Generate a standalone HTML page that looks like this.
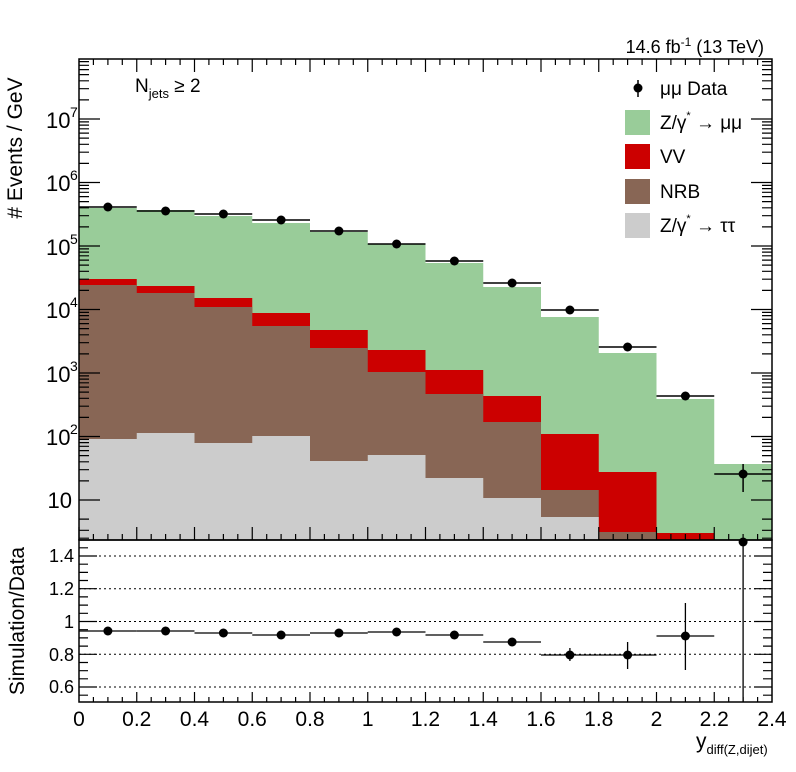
<!DOCTYPE html>
<html><head><meta charset="utf-8"><style>body{margin:0;background:#fff}svg{display:block}text{font-family:"Liberation Sans",sans-serif;fill:#000}</style></head><body>
<svg width="796" height="772" viewBox="0 0 796 772" xmlns="http://www.w3.org/2000/svg">
<rect width="796" height="772" fill="#fff"/>
<g fill="#99cc99">
<path d="M79,540V208H136.75V210H194.5V216H252.25V223H310V232H367.75V244H425.5V263H483.25V287H541V317H598.75V353H656.5V399H714.25V464H772V540Z"/>
</g>
<g fill="#cc0000">
<path d="M79,540V279H136.75V286H194.5V298H252.25V313H310V330H367.75V350H425.5V370H483.25V396H541V434H598.75V472H656.5V533H714.25V540Z"/>
</g>
<g fill="#886655">
<path d="M79,540V285H136.75V293H194.5V307H252.25V326H310V348H367.75V372H425.5V394H483.25V422H541V490H598.75V532H656.5V540Z"/>
</g>
<g fill="#cccccc">
<path d="M79,540V439H136.75V433H194.5V443H252.25V436H310V461H367.75V455H425.5V478H483.25V498H541V517H598.75V540Z"/>
</g>
<g stroke="#000" stroke-width="1.5">
<line x1="79" y1="207" x2="136.75" y2="207"/><line x1="136.75" y1="211" x2="194.5" y2="211"/><line x1="194.5" y1="214" x2="252.25" y2="214"/><line x1="252.25" y1="220" x2="310" y2="220"/><line x1="310" y1="231" x2="367.75" y2="231"/><line x1="367.75" y1="244" x2="425.5" y2="244"/><line x1="425.5" y1="261" x2="483.25" y2="261"/><line x1="483.25" y1="283" x2="541" y2="283"/><line x1="541" y1="310" x2="598.75" y2="310"/><line x1="598.75" y1="347" x2="656.5" y2="347"/><line x1="656.5" y1="396" x2="714.25" y2="396"/><line x1="714.25" y1="474" x2="772" y2="474"/><line x1="743.1" y1="464" x2="743.1" y2="492"/>
</g>
<g fill="#000">
<circle cx="107.9" cy="207" r="4.5"/><circle cx="165.6" cy="211" r="4.5"/><circle cx="223.4" cy="214" r="4.5"/><circle cx="281.1" cy="220" r="4.5"/><circle cx="338.9" cy="231" r="4.5"/><circle cx="396.6" cy="244" r="4.5"/><circle cx="454.4" cy="261" r="4.5"/><circle cx="512.1" cy="283" r="4.5"/><circle cx="569.9" cy="310" r="4.5"/><circle cx="627.6" cy="347" r="4.5"/><circle cx="685.4" cy="396" r="4.5"/><circle cx="743.1" cy="474" r="4.5"/>
</g>
<rect x="79" y="59" width="693" height="481" fill="none" stroke="#000" stroke-width="1.5"/>
<g stroke="#000" stroke-width="1.2">
<path d="M79,540v-13M136.75,540v-13M194.5,540v-13M252.25,540v-13M310,540v-13M367.75,540v-13M425.5,540v-13M483.25,540v-13M541,540v-13M598.75,540v-13M656.5,540v-13M714.25,540v-13
M93.4,540v-6M107.9,540v-6M122.3,540v-6M151.2,540v-6M165.6,540v-6M180.1,540v-6M208.9,540v-6M223.4,540v-6M237.8,540v-6M266.7,540v-6M281.1,540v-6M295.6,540v-6M324.4,540v-6M338.9,540v-6M353.3,540v-6M382.2,540v-6M396.6,540v-6M411.1,540v-6M439.9,540v-6M454.4,540v-6M468.8,540v-6M497.7,540v-6M512.1,540v-6M526.6,540v-6M555.4,540v-6M569.9,540v-6M584.3,540v-6M613.2,540v-6M627.6,540v-6M642.1,540v-6M670.9,540v-6M685.4,540v-6M699.8,540v-6M728.7,540v-6M743.1,540v-6M757.6,540v-6
M136.75,59v13M194.5,59v13M252.25,59v13M310,59v13M367.75,59v13M425.5,59v13M483.25,59v13M541,59v13M598.75,59v13M656.5,59v13M714.25,59v13
M93.4,59v6M107.9,59v6M122.3,59v6M151.2,59v6M165.6,59v6M180.1,59v6M208.9,59v6M223.4,59v6M237.8,59v6M266.7,59v6M281.1,59v6M295.6,59v6M324.4,59v6M338.9,59v6M353.3,59v6M382.2,59v6M396.6,59v6M411.1,59v6M439.9,59v6M454.4,59v6M468.8,59v6M497.7,59v6M512.1,59v6M526.6,59v6M555.4,59v6M569.9,59v6M584.3,59v6M613.2,59v6M627.6,59v6M642.1,59v6M670.9,59v6M685.4,59v6M699.8,59v6M728.7,59v6M743.1,59v6M757.6,59v6"/>
<path d="M79,500h21M79,436.5h21M79,373h21M79,309.5h21M79,246h21M79,182.5h21M79,119h21
M772,500h-21M772,436.5h-21M772,373h-21M772,309.5h-21M772,246h-21M772,182.5h-21M772,119h-21"/>
<path id="minl" d="M79,519.1h10M79,530.3h10M79,538.2h10M79,480.9h10M79,469.7h10M79,461.8h10M79,455.6h10M79,450.6h10M79,446.3h10M79,442.6h10M79,439.4h10
M79,417.4h10M79,406.2h10M79,398.3h10M79,392.1h10M79,387.1h10M79,382.8h10M79,379.1h10M79,375.9h10
M79,353.9h10M79,342.7h10M79,334.8h10M79,328.6h10M79,323.6h10M79,319.3h10M79,315.6h10M79,312.4h10
M79,290.4h10M79,279.2h10M79,271.3h10M79,265.1h10M79,260.1h10M79,255.8h10M79,252.1h10M79,248.9h10
M79,226.9h10M79,215.7h10M79,207.8h10M79,201.6h10M79,196.6h10M79,192.3h10M79,188.6h10M79,185.4h10
M79,163.4h10M79,152.2h10M79,144.3h10M79,138.1h10M79,133.1h10M79,128.8h10M79,125.1h10M79,121.9h10
M79,99.9h10M79,88.7h10M79,80.8h10M79,74.6h10M79,69.6h10M79,65.3h10M79,61.6h10"/>
<use href="#minl" transform="translate(851,0) scale(-1,1)"/>
</g>
<g font-size="22">
<text x="72" y="508" text-anchor="end">10</text>
<text x="46" y="445">10</text><text x="70" y="434" font-size="14">2</text>
<text x="46" y="382">10</text><text x="70" y="371" font-size="14">3</text>
<text x="46" y="318">10</text><text x="70" y="307" font-size="14">4</text>
<text x="46" y="255">10</text><text x="70" y="244" font-size="14">5</text>
<text x="46" y="191">10</text><text x="70" y="180" font-size="14">6</text>
<text x="46" y="128">10</text><text x="70" y="117" font-size="14">7</text>
</g>
<text transform="translate(22,148) rotate(-90)" font-size="21" text-anchor="middle"># Events / GeV</text>
<text x="135" y="92" font-size="19">N<tspan font-size="13" dy="6">jets</tspan><tspan dy="-6"> ≥ 2</tspan></text>
<text x="764" y="53" font-size="18" text-anchor="end">14.6 fb<tspan font-size="12" dy="-7">-1</tspan><tspan dy="7"> (13 TeV)</tspan></text>
<line x1="638" y1="80" x2="638" y2="97" stroke="#000" stroke-width="1.5"/><circle cx="638" cy="88" r="4.5"/>
<text x="660" y="95" font-size="19">μμ Data</text>
<rect x="625" y="110" width="25" height="25" fill="#99cc99"/><text x="660" y="129" font-size="19">Z/γ<tspan font-size="11" dy="-10">*</tspan><tspan dy="10"> → μμ</tspan></text>
<rect x="625" y="144" width="25" height="25" fill="#cc0000"/><text x="660" y="163" font-size="19">VV</text>
<rect x="625" y="179" width="25" height="25" fill="#886655"/><text x="660" y="198" font-size="19">NRB</text>
<rect x="625" y="213" width="25" height="25" fill="#cccccc"/><text x="660" y="232" font-size="19">Z/γ<tspan font-size="11" dy="-10">*</tspan><tspan dy="10"> → ττ</tspan></text>
<g stroke="#000" stroke-width="1" stroke-dasharray="2,3">
<line x1="79" y1="556" x2="772" y2="556"/><line x1="79" y1="588.7" x2="772" y2="588.7"/><line x1="79" y1="621.5" x2="772" y2="621.5"/><line x1="79" y1="654.3" x2="772" y2="654.3"/><line x1="79" y1="687" x2="772" y2="687"/>
</g>
<g stroke="#000" stroke-width="1.3">
<line x1="79" y1="631" x2="136.75" y2="631"/><line x1="136.75" y1="631" x2="194.5" y2="631"/><line x1="194.5" y1="633" x2="252.25" y2="633"/><line x1="252.25" y1="635" x2="310" y2="635"/><line x1="310" y1="633" x2="367.75" y2="633"/><line x1="367.75" y1="632" x2="425.5" y2="632"/><line x1="425.5" y1="635" x2="483.25" y2="635"/><line x1="483.25" y1="642" x2="541" y2="642"/><line x1="541" y1="655" x2="598.75" y2="655"/><line x1="598.75" y1="655" x2="656.5" y2="655"/><line x1="656.5" y1="636" x2="714.25" y2="636"/>
<line x1="569.9" y1="648" x2="569.9" y2="661"/><line x1="627.6" y1="642" x2="627.6" y2="669"/><line x1="685.4" y1="603" x2="685.4" y2="670"/><line x1="743.1" y1="540" x2="743.1" y2="702"/>
</g>
<g fill="#000">
<circle cx="107.9" cy="631" r="4.5"/><circle cx="165.6" cy="631" r="4.5"/><circle cx="223.4" cy="633" r="4.5"/><circle cx="281.1" cy="635" r="4.5"/><circle cx="338.9" cy="633" r="4.5"/><circle cx="396.6" cy="632" r="4.5"/><circle cx="454.4" cy="635" r="4.5"/><circle cx="512.1" cy="642" r="4.5"/><circle cx="569.9" cy="655" r="4.5"/><circle cx="627.6" cy="655" r="4.5"/><circle cx="685.4" cy="636" r="4.5"/><circle cx="743.1" cy="542" r="4.5"/>
</g>
<rect x="79" y="540" width="693" height="162" fill="none" stroke="#000" stroke-width="1.5"/>
<g stroke="#000" stroke-width="1.2">
<path d="M136.75,702v-10M194.5,702v-10M252.25,702v-10M310,702v-10M367.75,702v-10M425.5,702v-10M483.25,702v-10M541,702v-10M598.75,702v-10M656.5,702v-10M714.25,702v-10
M93.4,702v-5M107.9,702v-5M122.3,702v-5M151.2,702v-5M165.6,702v-5M180.1,702v-5M208.9,702v-5M223.4,702v-5M237.8,702v-5M266.7,702v-5M281.1,702v-5M295.6,702v-5M324.4,702v-5M338.9,702v-5M353.3,702v-5M382.2,702v-5M396.6,702v-5M411.1,702v-5M439.9,702v-5M454.4,702v-5M468.8,702v-5M497.7,702v-5M512.1,702v-5M526.6,702v-5M555.4,702v-5M569.9,702v-5M584.3,702v-5M613.2,702v-5M627.6,702v-5M642.1,702v-5M670.9,702v-5M685.4,702v-5M699.8,702v-5M728.7,702v-5M743.1,702v-5M757.6,702v-5
M79,556h18M79,588.7h18M79,621.5h18M79,654.3h18M79,687h18M772,556h-18M772,588.7h-18M772,621.5h-18M772,654.3h-18M772,687h-18
M79,547.8h9M79,564.2h9M79,572.4h9M79,580.5h9M79,596.9h9M79,605.1h9M79,613.3h9M79,629.7h9M79,637.9h9M79,646.1h9M79,662.5h9M79,670.7h9M79,678.8h9M79,695.2h9
M772,547.8h-9M772,564.2h-9M772,572.4h-9M772,580.5h-9M772,596.9h-9M772,605.1h-9M772,613.3h-9M772,629.7h-9M772,637.9h-9M772,646.1h-9M772,662.5h-9M772,670.7h-9M772,678.8h-9M772,695.2h-9"/>
</g>
<g font-size="18" text-anchor="end">
<text x="74" y="562">1.4</text><text x="74" y="595">1.2</text><text x="74" y="628">1</text><text x="74" y="661">0.8</text><text x="74" y="693">0.6</text>
</g>
<text transform="translate(24,621) rotate(-90)" font-size="21" text-anchor="middle">Simulation/Data</text>
<g font-size="21" text-anchor="middle">
<text x="79" y="726">0</text><text x="136.75" y="726">0.2</text><text x="194.5" y="726">0.4</text><text x="252.25" y="726">0.6</text><text x="310" y="726">0.8</text><text x="367.75" y="726">1</text><text x="425.5" y="726">1.2</text><text x="483.25" y="726">1.4</text><text x="541" y="726">1.6</text><text x="598.75" y="726">1.8</text><text x="656.5" y="726">2</text><text x="714.25" y="726">2.2</text><text x="772" y="726">2.4</text>
</g>
<text x="696" y="748" font-size="21">y<tspan font-size="13" dy="6">diff(Z,dijet)</tspan></text>
</svg>
</body></html>
